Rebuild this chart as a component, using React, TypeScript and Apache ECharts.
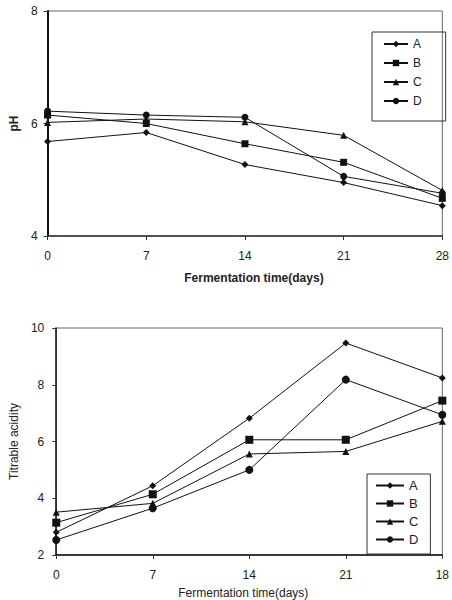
import React, { useEffect, useRef } from "react";
import * as echarts from "echarts";

const days = ["0", "7", "14", "21", "28"];
const daysBottomLabels = ["0", "7", "14", "21", "18"];
const seriesNames = ["A", "B", "C", "D"];
const symbols = ["diamond", "rect", "triangle", "circle"];

const phA = [5.68, 5.84, 5.27, 4.95, 4.54];
const phB = [6.15, 6.0, 5.64, 5.31, 4.67];
const phC = [6.02, 6.08, 6.03, 5.79, 4.81];
const phD = [6.22, 6.15, 6.11, 5.06, 4.76];

const taA = [2.8, 4.44, 6.82, 9.47, 8.24];
const taB = [3.14, 4.14, 6.06, 6.06, 7.44];
const taC = [3.51, 3.82, 5.56, 5.65, 6.71];
const taD = [2.53, 3.65, 5.0, 8.18, 6.94];

const phTicks = { min: 4, max: 8, interval: 2 };
const taTicks = { min: 2, max: 10, interval: 2 };

const FONT = "Liberation Sans";

export default function App() {
  const ref = useRef<HTMLDivElement>(null);
  useEffect(() => {
    document.body.style.margin = "0";
    const chart = echarts.init(ref.current!, null, { renderer: "svg" });
    const phData = [phA, phB, phC, phD];
    const taData = [taA, taB, taC, taD];
    const mk = (data: number[][], idx: number, sizes: number[]) =>
      data.map((d, i) => ({
        name: seriesNames[i],
        type: "line",
        xAxisIndex: idx,
        yAxisIndex: idx,
        data: d,
        symbol: symbols[i],
        symbolSize: sizes[i],
        lineStyle: { color: "#111", width: 1 },
        itemStyle: { color: "#111" },
      }));
    const axisText = { color: "#222", fontFamily: FONT, fontSize: 12 };
    chart.setOption({
      animation: false,
      textStyle: { fontFamily: FONT },
      grid: [
        { left: 41, top: 11, right: 5, height: 225, show: true, borderColor: "#666", borderWidth: 1, backgroundColor: "transparent" },
        { left: 51, top: 328, right: 5, height: 227, show: true, borderColor: "#666", borderWidth: 1, backgroundColor: "transparent" },
      ],
      legend: [
        {
          data: seriesNames,
          orient: "vertical",
          left: 372,
          top: 32,
          itemWidth: 24,
          itemHeight: 8,
          itemGap: 7,
          padding: [6, 24, 14, 11],
          borderColor: "#333",
          borderWidth: 1,
          textStyle: { color: "#222", fontFamily: FONT, fontSize: 12 },
          selectedMode: false,
        },
        {
          data: seriesNames,
          orient: "vertical",
          left: 367,
          top: 474,
          itemWidth: 28,
          itemHeight: 8,
          itemGap: 5,
          padding: [5, 12, 8, 8],
          borderColor: "#333",
          borderWidth: 1,
          textStyle: { color: "#222", fontFamily: FONT, fontSize: 13 },
          selectedMode: false,
        },
      ],
      xAxis: [
        {
          type: "category",
          gridIndex: 0,
          data: days,
          boundaryGap: false,
          name: "Fermentation time(days)",
          nameLocation: "middle",
          nameGap: 36,
          nameTextStyle: { color: "#222", fontFamily: FONT, fontSize: 12, fontWeight: "bold", padding: [0, 0, 0, 18] },
          axisLine: { lineStyle: { color: "#333", width: 1.5 } },
          axisTick: { show: true, length: 4, inside: false, lineStyle: { color: "#333" } },
          axisLabel: { ...axisText, margin: 14 },
          splitLine: { show: false },
        },
        {
          type: "category",
          gridIndex: 1,
          data: daysBottomLabels,
          boundaryGap: false,
          name: "Fermentation time(days)",
          nameLocation: "middle",
          nameGap: 32,
          nameTextStyle: { color: "#222", fontFamily: FONT, fontSize: 12, padding: [0, 12, 0, 0] },
          axisLine: { lineStyle: { color: "#111", width: 1.5 } },
          axisTick: { show: true, length: 4, inside: false, lineStyle: { color: "#333" } },
          axisLabel: { ...axisText, margin: 14 },
          splitLine: { show: false },
        },
      ],
      yAxis: [
        {
          type: "value",
          gridIndex: 0,
          ...phTicks,
          name: "pH",
          nameLocation: "middle",
          nameGap: 26,
          nameTextStyle: { color: "#222", fontFamily: FONT, fontSize: 12, fontWeight: "bold" },
          axisLine: { show: true, lineStyle: { color: "#111", width: 2 } },
          axisTick: { show: true, length: 4, lineStyle: { color: "#333" } },
          axisLabel: { ...axisText, margin: 10 },
          splitLine: { show: false },
        },
        {
          type: "value",
          gridIndex: 1,
          ...taTicks,
          name: "Titrable acidity",
          nameLocation: "middle",
          nameGap: 30,
          nameTextStyle: { color: "#222", fontFamily: FONT, fontSize: 12 },
          axisLine: { show: true, lineStyle: { color: "#111", width: 1.5 } },
          axisTick: { show: true, length: 4, lineStyle: { color: "#333" } },
          axisLabel: { ...axisText, margin: 12 },
          splitLine: { show: false },
        },
      ],
      series: [...mk(phData, 0, [7, 7, 7, 7]), ...mk(taData, 1, [7, 8, 7, 8])],
    });
    return () => chart.dispose();
  }, []);
  return <div ref={ref} style={{ width: 452, height: 600 }} />;
}
